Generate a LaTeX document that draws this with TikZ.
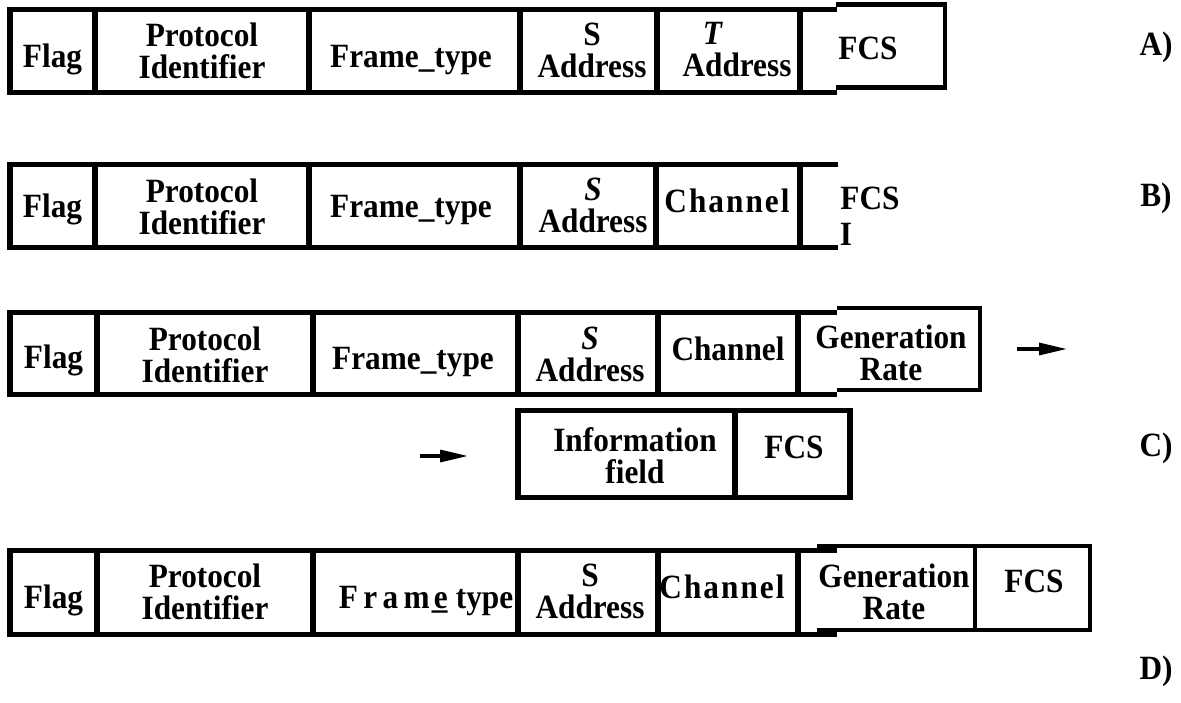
\documentclass[tikz,border=0pt]{standalone}
\usepackage{fontspec}
\setmainfont{Liberation Serif}[FakeStretch=0.92]
\usetikzlibrary{arrows.meta}
\begin{document}
\begin{tikzpicture}[x=1bp,y=-1bp,
  frame/.style={line width=5.8bp, line join=miter},
  thinframe/.style={line width=4.2bp, line join=miter},
  lbl/.style={font=\bfseries\fontsize{34bp}{32bp}\selectfont, inner sep=0pt, anchor=base},
  lbltwo/.style={font=\bfseries\fontsize{34bp}{32bp}\selectfont, inner sep=0pt, align=center, anchor=center},
  arr/.style={line width=3.2bp, -{Triangle[length=28bp,width=12bp]}}]
\useasboundingbox[fill=white] (0,0) rectangle (1181,703);

% ---------- Row A ----------
\draw[thinframe] (836,4.5) -- (945,4.5) -- (945,87.5) -- (836,87.5);
\draw[frame] (837,9.5) -- (10,9.5) -- (10,92.5) -- (837,92.5);
\foreach \x in {95,309,520,657,800} \draw[frame] (\x,9.5) -- (\x,92.5);
\node[lbl] (aflag) at (52.5,68) {Flag};
\node[lbltwo] (aprot) at (202,51) {Protocol\\Identifier};
\node[lbl] (aframe) at (411,68) {Frame\_type};
\node[lbltwo] (asaddr) at (592,50) {S\\Address};
\node[lbltwo] (ataddr) at (737,50) {\textit{T}\hspace*{48bp}\\Address};
\node[lbl] (afcs) at (868,60) {FCS};
\node[lbl] (alab) at (1156,56) {A)};

% ---------- Row B ----------
\draw[frame] (838,164.5) -- (10,164.5) -- (10,247.5) -- (838,247.5);
\foreach \x in {95,309,520,656,800} \draw[frame] (\x,164.5) -- (\x,247.5);
\node[lbl] (bflag) at (52.5,218) {Flag};
\node[lbltwo] (bprot) at (202,207) {Protocol\\Identifier};
\node[lbl] (bframe) at (411,218) {Frame\_type};
\node[lbltwo] (bsaddr) at (593,205) {\textit{S}\\Address};
\node[lbl] (bchan) at (727,213) {\addfontfeatures{LetterSpace=6}Channel};
\node[lbl] (bfcs) at (870,210) {FCS};
\node[lbl] (bi) at (846,245) {I};
\node[lbl] (blab) at (1156,207) {B)};

% ---------- Row C ----------
\draw[thinframe] (837,308) -- (980,308) -- (980,390) -- (837,390);
\draw[frame] (837,312.5) -- (10,312.5) -- (10,394.5) -- (837,394.5);
\foreach \x in {97,313,518,658,798} \draw[frame] (\x,312.5) -- (\x,394.5);
\node[lbl] (cflag) at (53.5,368) {Flag};
\node[lbltwo] (cprot) at (205,355) {Protocol\\Identifier};
\node[lbl] (cframe) at (413,369) {Frame\_type};
\node[lbltwo] (csaddr) at (590,354) {\textit{S}\\Address};
\node[lbl] (cchan) at (728,360) {Channel};
\node[lbltwo] (cgen) at (891,353) {Generation\\Rate};
\coordinate (ra1) at (1017,349);
\coordinate (ra2) at (1067,349);
\draw[arr] (ra1) -- (ra2);

% information row
\draw[frame] (518,410.5) rectangle (850,497.5);
\draw[frame] (735,410.5) -- (735,497.5);
\node[lbltwo] (cinfo) at (635,456) {Information\\field};
\node[lbl] (cfcs) at (794,458) {FCS};
\coordinate (la1) at (420,456);
\coordinate (la2) at (468,456);
\draw[arr] (la1) -- (la2);
\node[lbl] (clab) at (1156,456) {C)};

% ---------- Row D ----------
\draw[thinframe] (817,546) -- (1090,546) -- (1090,630) -- (817,630);
\draw[thinframe] (975,546) -- (975,630);
\draw[frame] (837,550.5) -- (10,550.5) -- (10,634.5) -- (837,634.5);
\foreach \x in {97,313,518,658,798} \draw[frame] (\x,550.5) -- (\x,634.5);
\node[lbl] (dflag) at (53.5,608) {Flag};
\node[lbltwo] (dprot) at (205,592) {Protocol\\Identifier};
\node[lbl] (dframe) at (426,608) {{\addfontfeatures{LetterSpace=16}Fram}\kern0.12em e\kern-0.47em\_\kern0.25em type};
\node[lbltwo] (dsaddr) at (590,591) {S\\Address};
\node[lbl] (dchan) at (722,598) {\addfontfeatures{LetterSpace=6}Channel};
\node[lbltwo] (dgen) at (894,592) {Generation\\Rate};
\node[lbl] (dfcs) at (1034,592) {FCS};
\node[lbl] (dlab) at (1156,679) {D)};
\end{tikzpicture}
\end{document}
